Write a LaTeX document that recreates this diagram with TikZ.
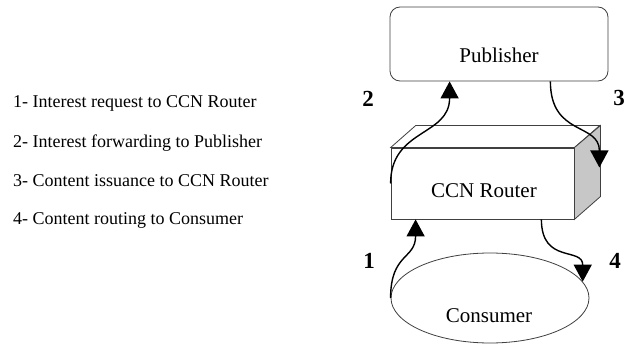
\documentclass[tikz,border=0pt]{standalone}
\usepackage{fontspec}
\setmainfont{Liberation Serif}
\usetikzlibrary{arrows.meta,shapes.geometric}

\tikzset{
  box/.style={draw=black!75, line width=0.8pt, fill=white, inner sep=0pt},
  flow/.style={-{Triangle[length=17pt,width=18pt]}, line width=1.4pt},
  numlabel/.style={font=\fontsize{23}{23}\selectfont\bfseries, anchor=base, inner sep=0pt},
  boxtext/.style={font=\fontsize{21}{21}\selectfont, anchor=base, inner sep=0pt},
  legend/.style={font=\fontsize{18}{18}\selectfont, anchor=base west, inner sep=0pt}
}

\begin{document}
\begin{tikzpicture}[x=1pt,y=-1pt]
\useasboundingbox (0,0) rectangle (633,345);

\node (pub) at (499,44) [box, rounded corners=10pt, minimum width=218pt, minimum height=74pt] {};
\node (router) at (482.5,183.5) [box, minimum width=183pt, minimum height=71pt] {};
\draw [box] (router.north west) -- ++(25,-22) -- ++(184,0) -- (router.north east) -- cycle;
\draw [box, fill=black!22] (router.north east) -- ++(26,-22) -- ++(0,71) -- (router.south east) -- cycle;
\node (cons) at (490,298) [box, ellipse, minimum width=198pt, minimum height=90pt] {};

\node (pubtext) at (499,63) [boxtext] {Publisher};
\node (routertext) at (484,197) [boxtext] {CCN Router};
\node (constext) at (489,322) [boxtext] {Consumer};

% request path
\draw [flow] (cons.west) .. controls +(0,-45) and +(0,40) .. ([xshift=25pt]router.south west);
\draw [flow] (router.west) .. controls +(0,-55) and +(0,55) .. ([xshift=60pt]pub.south west);
% content path
\draw [flow] ([xshift=-58pt]pub.south east) .. controls +(0,55) and +(0,-45) .. ([xshift=25pt,yshift=16pt]router.east);
\draw [flow] ([xshift=-33pt]router.south east) .. controls +(0,45) and +(0,-35) .. (cons.10);

\node (n1) at (369,268) [numlabel] {1};
\node (n2) at (368,107) [numlabel] {2};
\node (n3) at (619,106) [numlabel] {3};
\node (n4) at (615,268) [numlabel] {4};

\foreach \txt [count=\i] in {Interest request to CCN Router, Interest forwarding to Publisher, Content issuance to CCN Router, Content routing to Consumer}
  \node (leg\i) at (13,{69+39*\i}) [legend] {\i- \txt};
\end{tikzpicture}
\end{document}
